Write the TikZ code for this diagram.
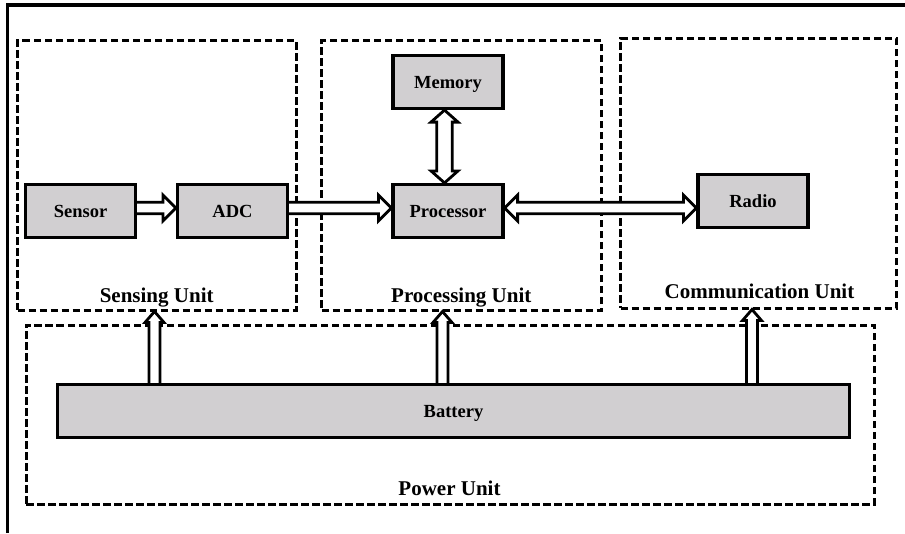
\documentclass[tikz,border=0pt]{standalone}
\usepackage{fontspec}
\setmainfont{Liberation Serif}
\usetikzlibrary{calc}
\definecolor{boxgray}{RGB}{209,207,209}
% single-headed block arrow from #1 to #2; #3 shaft half width, #4 head half width, #5 head length
\newcommand{\fatone}[5]{%
  \path ($(#2)!#5!(#1)$) coordinate (fa-c);
  \draw[fatline] ($(#1)!#3!90:(#2)$) -- ($(fa-c)!#3!90:(#2)$) -- ($(fa-c)!#4!90:(#2)$) -- (#2)
     -- ($(fa-c)!#4!-90:(#2)$) -- ($(fa-c)!#3!-90:(#2)$) -- ($(#1)!#3!-90:(#2)$);
}
% double-headed block arrow between #1 and #2
\newcommand{\fattwo}[5]{%
  \path ($(#1)!#5!(#2)$) coordinate (fa-a) ($(#2)!#5!(#1)$) coordinate (fa-b);
  \draw[fatline] (#1) -- ($(fa-a)!#4!90:(#2)$) -- ($(fa-a)!#3!90:(#2)$) -- ($(fa-b)!#3!90:(#2)$)
     -- ($(fa-b)!#4!90:(#2)$) -- (#2) -- ($(fa-b)!#4!-90:(#2)$) -- ($(fa-b)!#3!-90:(#2)$)
     -- ($(fa-a)!#3!-90:(#2)$) -- ($(fa-a)!#4!-90:(#2)$) -- cycle;
}
\begin{document}
\begin{tikzpicture}[x=1pt,y=-1pt,
  blk/.style={draw, line width=3.2pt, fill=boxgray, minimum width=110pt, minimum height=53pt,
    inner sep=0pt, font=\fontsize{18.5}{20}\selectfont\bfseries, text height=12.2pt, text depth=0pt},
  unitbox/.style={draw, line width=3pt, dash pattern=on 7.5pt off 3.5pt, inner sep=0pt},
  unitlabel/.style={anchor=base, inner sep=0pt, font=\fontsize{21}{24}\selectfont\bfseries},
  fatline/.style={draw, line width=2.8pt, fill=white, line join=miter}]
\useasboundingbox (0,0) rectangle (905,533);
% outer frame (partially visible)
\draw[line width=3.2pt] (7.5,533) -- (7.5,5) -- (905,5);

% dashed unit boxes
\node[unitbox, minimum width=278.5pt, minimum height=269.5pt] (sens) at (156.75,175.25) {};
\node[unitbox, minimum width=280pt, minimum height=269.5pt] (procu) at (461.5,175.25) {};
\node[unitbox, minimum width=276pt, minimum height=269.5pt] (comm) at (758.5,173.25) {};
\node[unitbox, minimum width=848pt, minimum height=179pt] (power) at (450,414.5) {};

% unit labels
\node[unitlabel] (senslab) at (156.7,302) {Sensing Unit};
\node[unitlabel] (proclab) at (461.3,302) {Processing Unit};
\node[unitlabel] (commlab) at (759.5,298.5) {Communication Unit};
\node[unitlabel] (powlab) at (449.5,495) {Power Unit};

% arrow guide coordinates
\coordinate (hl) at (0,208);
\coordinate (vl) at (444.5,0);
\coordinate (xs) at (154.5,0);
\coordinate (xp) at (442.5,0);
\coordinate (xc) at (752,0);

% blocks
\node[blk] (sensor) at (80.5,211) {Sensor};
\node[blk] (adc) at (232.5,211) {ADC};
\node[blk] (mem) at (448,82) {Memory};
\node[blk] (proc) at (448,211) {Processor};
\node[blk] (radio) at (753,201) {Radio};
\node[blk, minimum width=792pt] (bat) at (453.5,411) {Battery};

\coordinate (sa0) at (sensor.east |- hl);
\coordinate (sa1) at (adc.west |- hl);
\coordinate (ap0) at (adc.east |- hl);
\coordinate (ap1) at (proc.west |- hl);
\coordinate (pr0) at (proc.east |- hl);
\coordinate (pr1) at (radio.west |- hl);
\coordinate (mp0) at (vl |- mem.south);
\coordinate (mp1) at (vl |- proc.north);
\coordinate (bs0) at (xs |- bat.north);
\coordinate (bs1) at (xs |- sens.south);
\coordinate (bp0) at (xp |- bat.north);
\coordinate (bp1) at (xp |- procu.south);
\coordinate (bc0) at (xc |- bat.north);
\coordinate (bc1) at (xc |- comm.south);

% block arrows
\fatone{sa0}{sa1}{5.8pt}{13pt}{13pt}
\fatone{ap0}{ap1}{5.8pt}{13pt}{13pt}
\fattwo{pr0}{pr1}{5.8pt}{13pt}{13pt}
\fattwo{mp0}{mp1}{7.8pt}{13.5pt}{12pt}
\fatone{bs0}{bs1}{5.5pt}{9.5pt}{11pt}
\fatone{bp0}{bp1}{5.5pt}{9.5pt}{11pt}
\fatone{bc0}{bc1}{5.5pt}{9.5pt}{11pt}
\end{tikzpicture}
\end{document}
